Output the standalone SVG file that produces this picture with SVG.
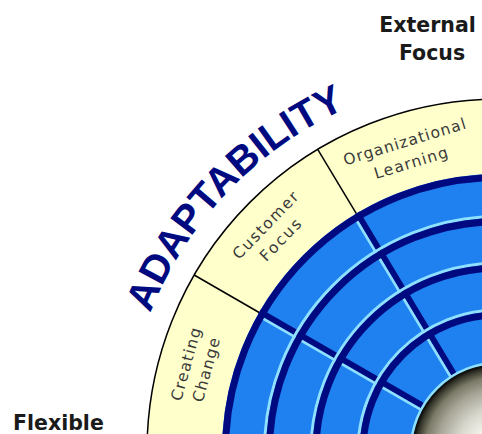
<svg xmlns="http://www.w3.org/2000/svg" width="482" height="434" viewBox="0 0 482 434">
<style>
.navy{fill:none;stroke:#000a80;stroke-width:7}
.lb{fill:none;stroke:#8fe0ff;stroke-width:3}
.lab{font-family:"DejaVu Sans","Liberation Sans",sans-serif;font-size:15.5px;fill:#3a3a3a;text-anchor:middle}
.big{font-family:"DejaVu Sans","Liberation Sans",sans-serif;font-weight:bold;font-size:20.5px;fill:#1a1a1a}
</style>
<defs>
<radialGradient id="sph" gradientUnits="userSpaceOnUse" cx="499" cy="451" r="86">
<stop offset="0" stop-color="#ffffff"/>
<stop offset="0.25" stop-color="#f8f8f2"/>
<stop offset="0.5" stop-color="#d6d6cc"/>
<stop offset="0.72" stop-color="#a6a596"/>
<stop offset="0.86" stop-color="#7b7a68"/>
<stop offset="0.93" stop-color="#4a4a3c"/>
<stop offset="1" stop-color="#141410"/>
</radialGradient>
<path id="arcText" d="M 124 451 A 375 375 0 0 1 499 76"/>
</defs>
<rect width="482" height="434" fill="#ffffff"/>
<g id="wheel" transform="translate(499 451)">
<circle r="352" fill="#ffffcc" stroke="#000" stroke-width="1.5"/>
<circle r="277" fill="#1f80f0"/>
<g id="dividers">
<g transform="rotate(30)">
<line x1="-352" y1="0" x2="-277" y2="0" stroke="#000" stroke-width="1.5"/>
<line x1="-277" y1="-1" x2="-86" y2="-1" stroke="#000a80" stroke-width="6"/>
<line x1="-277" y1="3.3" x2="-86" y2="3.3" stroke="#8fe0ff" stroke-width="2.5"/>
</g>
<g transform="rotate(59)">
<line x1="-352" y1="0" x2="-277" y2="0" stroke="#000" stroke-width="1.5"/>
<line x1="-277" y1="-1" x2="-86" y2="-1" stroke="#000a80" stroke-width="6"/>
<line x1="-277" y1="3.3" x2="-86" y2="3.3" stroke="#8fe0ff" stroke-width="2.5"/>
</g>
</g>
<circle class="navy" r="273.5"/>
<circle class="lb" r="234.5"/>
<circle class="navy" r="229.5"/>
<circle class="lb" r="188"/>
<circle class="navy" r="183"/>
<circle class="lb" r="141"/>
<circle class="navy" r="136"/>
<circle class="lb" r="88" stroke-width="4"/>
</g>
<circle id="sphere" cx="499" cy="451" r="86" fill="url(#sph)" stroke="#111" stroke-width="2"/>
<g id="label-creating-change" transform="translate(499 451) rotate(-74.5)">
<text class="lab" x="0" y="-319.5" textLength="75" lengthAdjust="spacing">Creating</text>
<text class="lab" x="0" y="-298.5" textLength="66" lengthAdjust="spacing">Change</text>
</g>
<g id="label-customer-focus" transform="translate(499 451) rotate(-46)">
<text class="lab" x="0" y="-319.5" textLength="87" lengthAdjust="spacing">Customer</text>
<text class="lab" x="0" y="-298.5" textLength="52" lengthAdjust="spacing">Focus</text>
</g>
<g id="label-organizational-learning" transform="translate(499 451) rotate(-17)">
<text class="lab" x="0" y="-318" textLength="127" lengthAdjust="spacing">Organizational</text>
<text class="lab" x="0" y="-296" textLength="76" lengthAdjust="spacing">Learning</text>
</g>
<g id="title-adaptability">
<text font-family="'Liberation Sans',Arial,sans-serif" font-weight="bold" font-size="40" fill="#000a80"><textPath href="#arcText" startOffset="48.6%" text-anchor="middle">ADAPTABILITY</textPath></text>
</g>
<g id="label-external-focus">
<text class="big" x="427.5" y="31.5" text-anchor="middle">External</text>
<text class="big" x="432" y="60" text-anchor="middle">Focus</text>
</g>
<g id="label-flexible">
<text class="big" x="13" y="430">Flexible</text>
</g>
</svg>
